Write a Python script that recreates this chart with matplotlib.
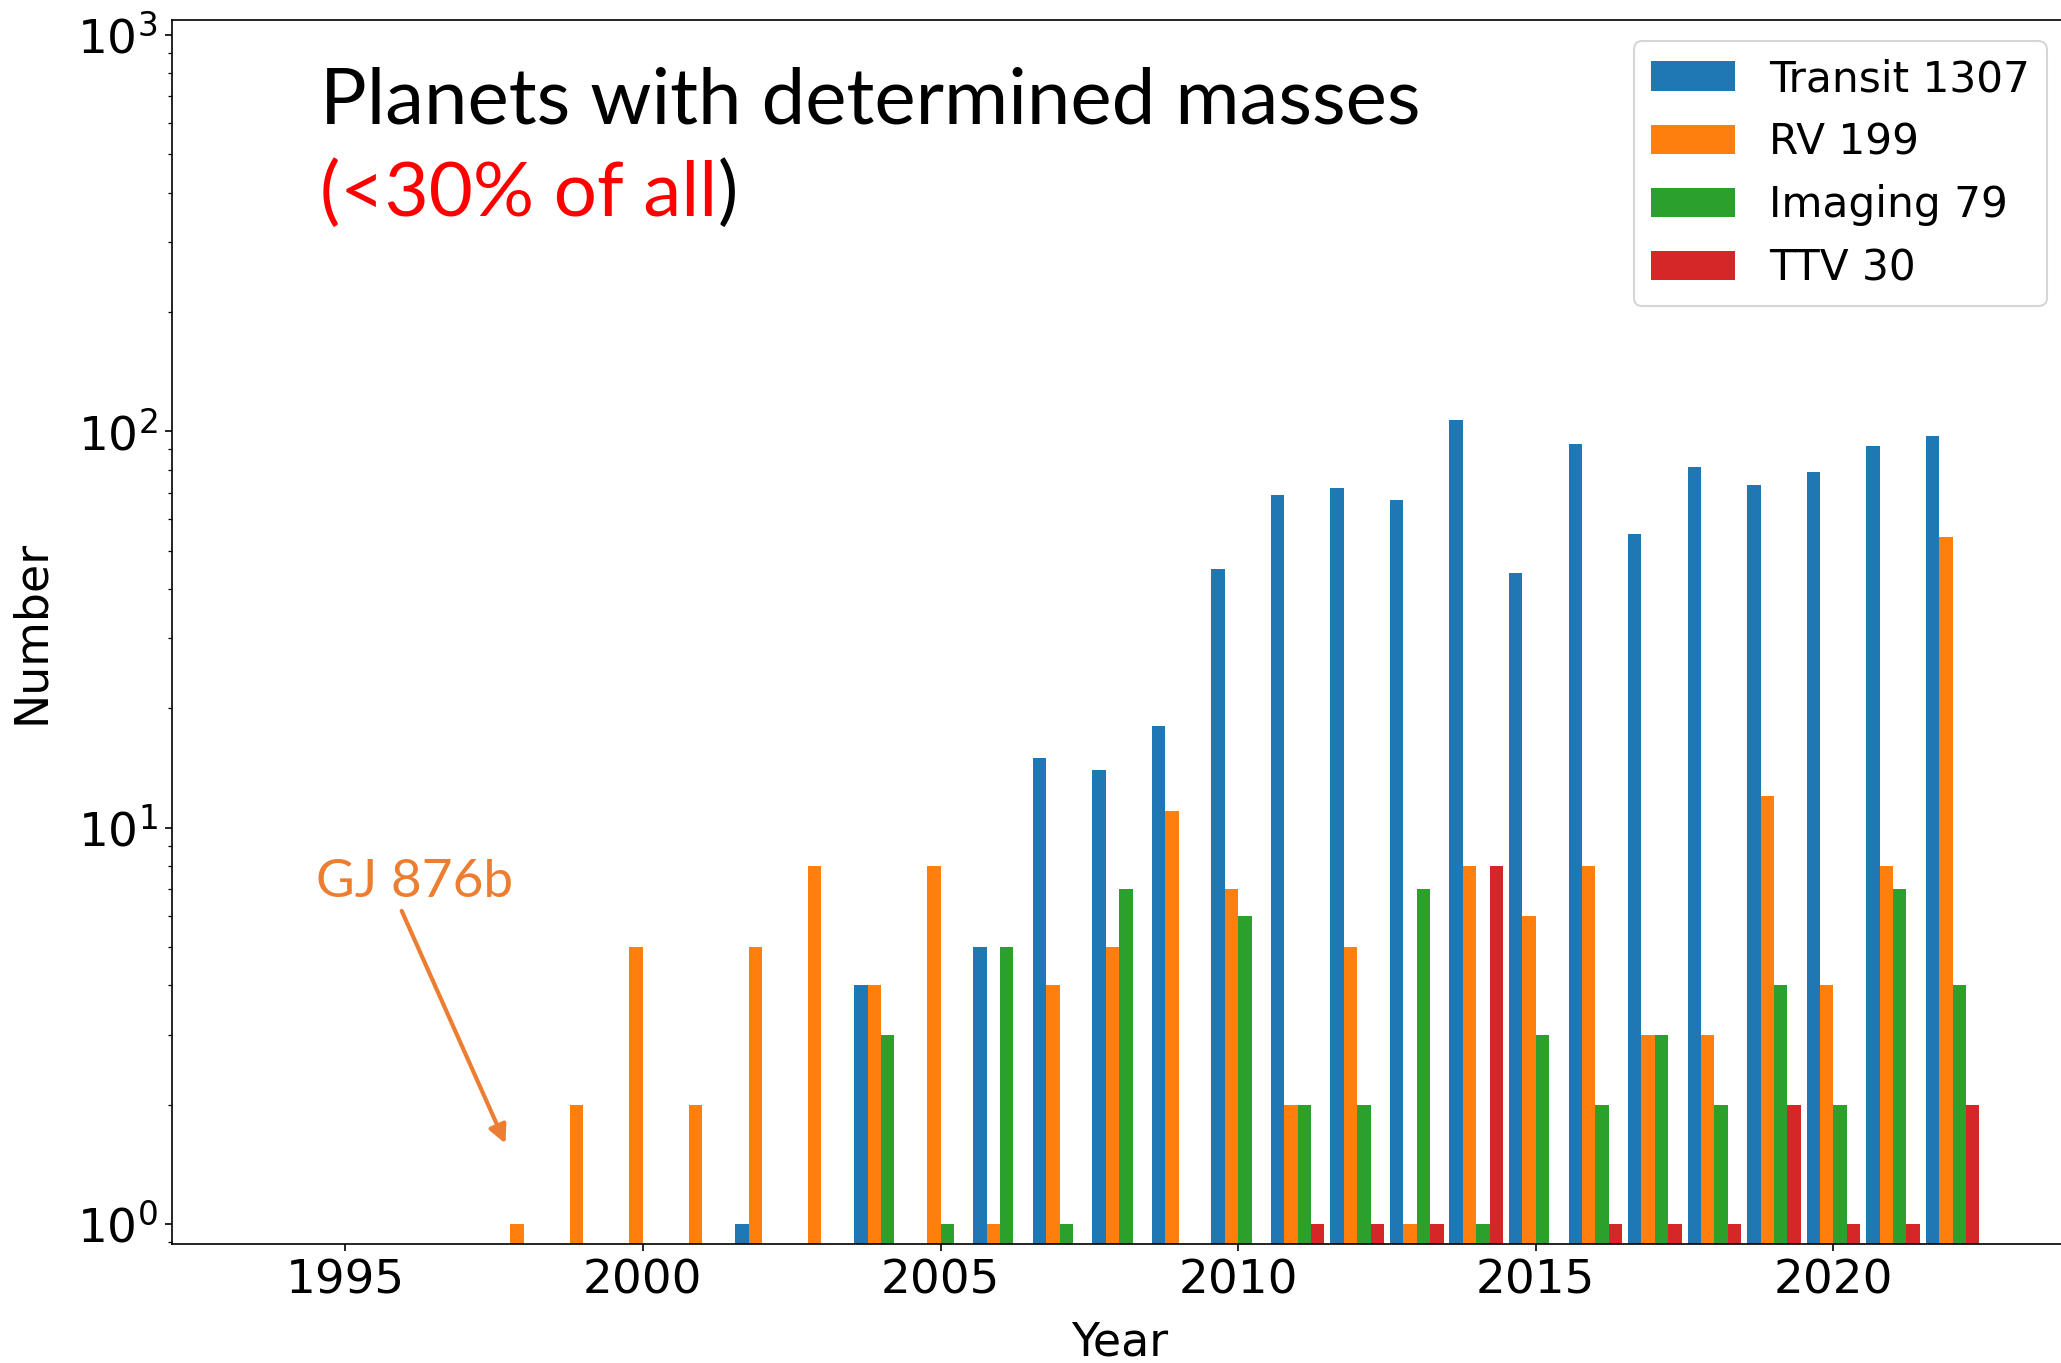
import matplotlib
matplotlib.use('Agg')
import matplotlib.pyplot as plt
import numpy as np

# planets with determined masses per discovery year
years = np.arange(1998, 2023)
transit = [0, 0, 0, 0, 1, 0, 4, 0, 5, 15, 14, 18, 45, 69, 72, 67, 107, 44, 93, 55, 81, 73, 79, 92, 97]
rv = [1, 2, 5, 2, 5, 8, 4, 8, 1, 4, 5, 11, 7, 2, 5, 1, 8, 6, 8, 3, 3, 12, 4, 8, 54]
imaging = [0, 0, 0, 0, 0, 0, 3, 1, 5, 1, 7, 0, 6, 2, 2, 7, 1, 3, 2, 3, 2, 4, 2, 7, 4]
ttv = [0, 0, 0, 0, 0, 0, 0, 0, 0, 0, 0, 0, 0, 1, 1, 1, 8, 0, 1, 1, 1, 2, 1, 1, 2]
labels = ['Transit 1307', 'RV 199', 'Imaging 79', 'TTV 30']
colors = ['#1f77b4', '#ff7f0e', '#2ca02c', '#d62728']

W, H, DPI = 2061, 1363, 150
fig = plt.figure(figsize=(W / DPI, H / DPI), dpi=DPI)
ax = fig.add_axes([172 / W, 1 - 1244 / H, 1896 / W, 1224 / H])

w = 0.225
for i, (vals, lab, c) in enumerate(zip([transit, rv, imaging, ttv], labels, colors)):
    vals = np.array(vals)
    m = vals > 0
    ax.bar(years[m] + (i - 1.5) * w, vals[m], width=w, color=c, label=lab)

ax.set_yscale('log')
ax.set_ylim(0.89, 1090)
ax.set_xlim(1992.09, 2023.94)
ax.set_xlabel('Year', fontsize=22, labelpad=8)
ax.set_ylabel('Number', fontsize=22, labelpad=11)
ax.tick_params(labelsize=22.5)
ax.legend(loc='upper right', fontsize=20.3)

orange = '#ED7D31'
ax.annotate('', xy=(1997.72, 1.56), xytext=(1995.92, 6.3),
            arrowprops=dict(arrowstyle='-|>', color=orange, lw=2, mutation_scale=18))

# slide-style overlay text, sized to the widths in the picture
fam = ['Lato', 'DejaVu Sans']
renderer = fig.canvas.get_renderer()


def fit(t, target):
    bb = t.get_window_extent(renderer=renderer)
    t.set_fontsize(t.get_fontsize() * target / bb.width)


t1 = fig.text(320 / W, 1 - 123 / H, 'Planets with determined masses', family=fam,
              fontsize=38, va='baseline', color='black')
fit(t1, 1102)
t2 = fig.text(320 / W, 1 - 216 / H, '(<30% of all', family=fam,
              fontsize=38, va='baseline', color='red')
fit(t2, 398)
bb = t2.get_window_extent(renderer=renderer)
fig.text(bb.x1 / W, 1 - 216 / H, ')', family=fam, fontsize=t2.get_fontsize(),
         va='baseline', color='black')
t3 = fig.text(316 / W, 1 - 897 / H, 'GJ 876b', family=fam, fontsize=30,
              va='baseline', color=orange)
fit(t3, 197)

fig.savefig('out.png', dpi=DPI)
